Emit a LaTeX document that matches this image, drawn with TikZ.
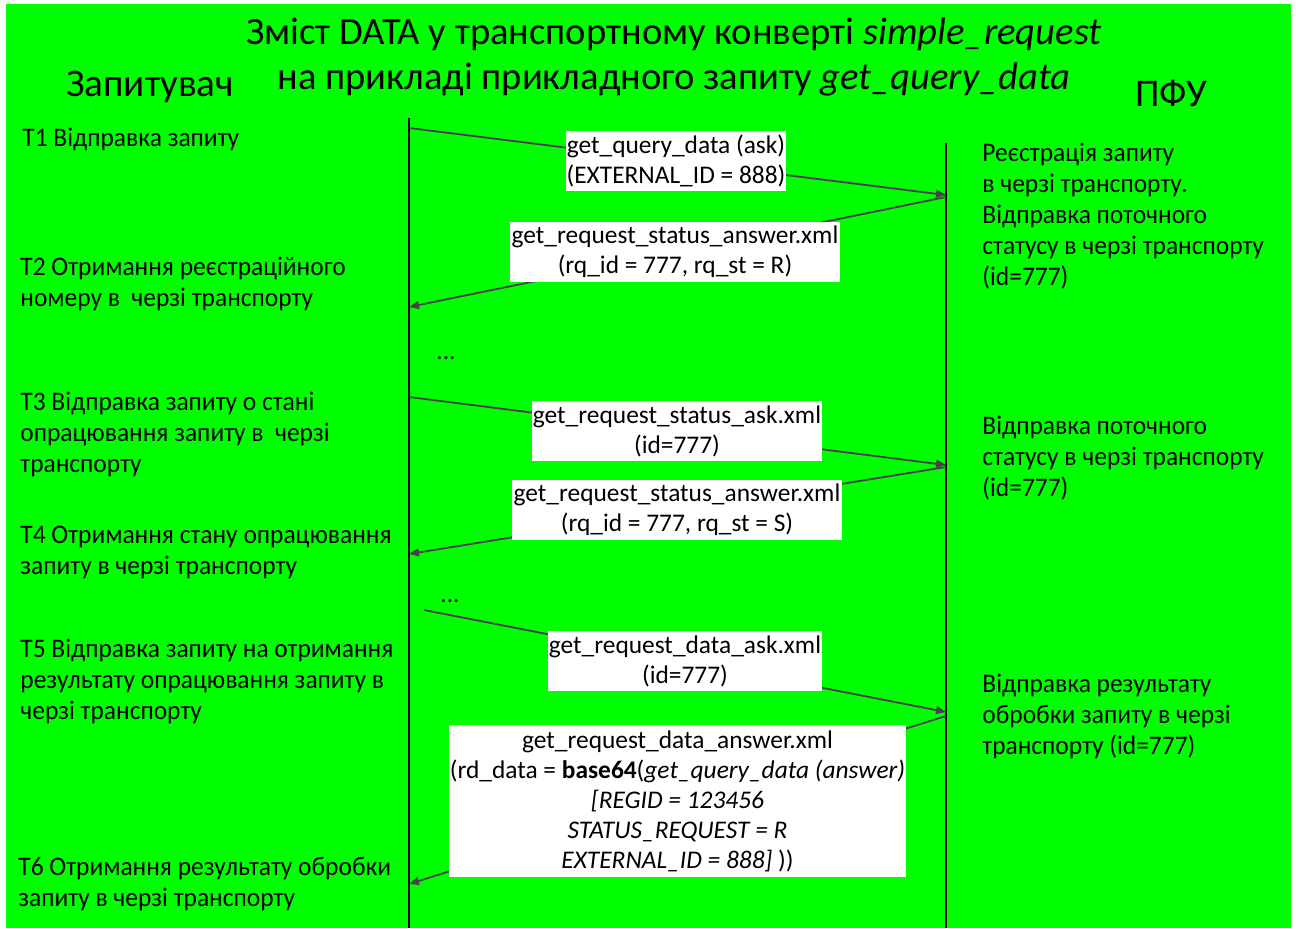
\documentclass[tikz,border=0pt]{standalone}
\usepackage{fontspec}
\setmainfont{Carlito}
\newfontfamily\narrowfamily[FakeStretch=0.95]{Carlito}
\usepackage{xcolor}
\usepackage{tikz}
\usetikzlibrary{arrows.meta}

\definecolor{bggreen}{HTML}{00FF00}
\definecolor{msggray}{HTML}{4A3F4A}
\newcommand\pktfont{\fontsize{12.7}{15}\selectfont}
\newcommand\lblfont{\narrowfamily\fontsize{13.4}{15.4}\selectfont}
\newcommand\headfont{\fontsize{19.3}{22.5}\selectfont}
\newcommand\partyfont{\fontsize{19.6}{24}\selectfont}

\begin{document}
\begin{tikzpicture}[x=0.5pt, y=-0.5pt,
		life/.style={black, line width=0.6pt},
		msg/.style={msggray, line width=0.9pt, -{Triangle[length=5pt,width=4pt]}},
		pkt/.style={fill=white, inner sep=0pt, align=center, font=\pktfont},
		lbl/.style={anchor=base west, align=left, inner sep=0pt, font=\lblfont}]
				\useasboundingbox (0,0) rectangle (1296,928);
				\fill[white] (0,0) rectangle (1296,928);
				\fill[bggreen] (6,4) rectangle (1291,928);
				\node[anchor=base, align=center, inner sep=0pt, font=\headfont] (title) at (674,89)
					{Зміст DATA у транспортному конверті \textit{simple\_request}\\
					 на прикладі прикладного запиту \textit{get\_query\_data}};
				\node[anchor=base, inner sep=0pt, font=\partyfont] (client) at (150,96) {Запитувач};
				\node[anchor=base, inner sep=0pt, font=\partyfont] (pfu) at (1171,106) {ПФУ};
				\coordinate (cltop) at (409,118);
				\coordinate (clbot) at (409,928);
				\coordinate (pftop) at (946,143);
				\coordinate (pfbot) at (946,928);
				\draw[life] (cltop) -- (clbot);
				\draw[life] (pftop) -- (pfbot);
				\coordinate (q1s) at (409,128);
				\coordinate (q1e) at (946,195);
				\coordinate (r1s) at (946,197);
				\coordinate (r1e) at (409,307);
				\coordinate (q2s) at (409,397);
				\coordinate (q2e) at (946,465);
				\coordinate (r2s) at (946,467);
				\coordinate (r2e) at (409,554);
				\coordinate (q3s) at (424,610);
				\coordinate (q3e) at (946,712);
				\coordinate (r3s) at (946,716);
				\coordinate (r3e) at (409,884);
				\draw[msg] (q1s) -- (q1e);
				\draw[msg] (r1s) -- (r1e);
				\draw[msg] (q2s) -- (q2e);
				\draw[msg] (r2s) -- (r2e);
				\draw[msg] (q3s) -- (q3e);
				\draw[msg] (r3s) -- (r3e);
				\node[pkt, minimum width=110pt, minimum height=30pt] (ask1) at (676,161)
					{get\_query\_data (ask)\\(EXTERNAL\_ID = 888)};
				\node[pkt, minimum width=165pt, minimum height=30pt] (ans1) at (675,252)
					{get\_request\_status\_answer.xml\\(rq\_id = 777, rq\_st = R)};
				\node[pkt, minimum width=145pt, minimum height=30pt] (ask2) at (677,431)
					{get\_request\_status\_ask.xml\\(id=777)};
				\node[pkt, minimum width=165pt, minimum height=30pt] (ans2) at (677,510)
					{get\_request\_status\_answer.xml\\(rq\_id = 777, rq\_st = S)};
				\node[pkt, minimum width=137pt, minimum height=30pt] (ask3) at (685,661)
					{get\_request\_data\_ask.xml\\(id=777)};
				\node[pkt, minimum width=228.5pt, minimum height=76pt] (ans3) at (677.5,801)
					{get\_request\_data\_answer.xml\\
					 (rd\_data = \textbf{base64}(\textit{get\_query\_data (answer)}\\
					 \textit{[REGID = 123456}\\
					 \textit{STATUS\_REQUEST = R}\\
					 \textit{EXTERNAL\_ID = 888]} ))};
				\node[font=\pktfont, inner sep=0pt] (gap1) at (446,358) {...};
				\node[font=\pktfont, inner sep=0pt] (gap2) at (450,601) {...};
				\node[lbl] (t1) at (22,146) {Т1 Відправка запиту};
				\node[lbl] (t2) at (20,306) {Т2 Отримання реєстраційного\\номеру в~~черзі транспорту};
				\node[lbl] (t3) at (20,472) {Т3 Відправка запиту о стані\\опрацювання запиту в~~черзі\\транспорту};
				\node[lbl] (t4) at (20,574) {Т4 Отримання стану опрацювання\\запиту в черзі транспорту};
				\node[lbl] (t5) at (20,719) {Т5 Відправка запиту на отримання\\результату опрацювання запиту в\\черзі транспорту};
				\node[lbl] (t6) at (18,906) {Т6 Отримання результату обробки\\запиту в черзі транспорту};
				\node[lbl] (p1) at (982,285) {Реєстрація запиту\\в черзі транспорту.\\Відправка поточного\\статусу в черзі транспорту\\(id=777)};
				\node[lbl] (p2) at (982,496) {Відправка поточного\\статусу в черзі транспорту\\(id=777)};
				\node[lbl] (p3) at (982,754) {Відправка результату\\обробки запиту в черзі\\транспорту (id=777)};
\end{tikzpicture}
\end{document}
